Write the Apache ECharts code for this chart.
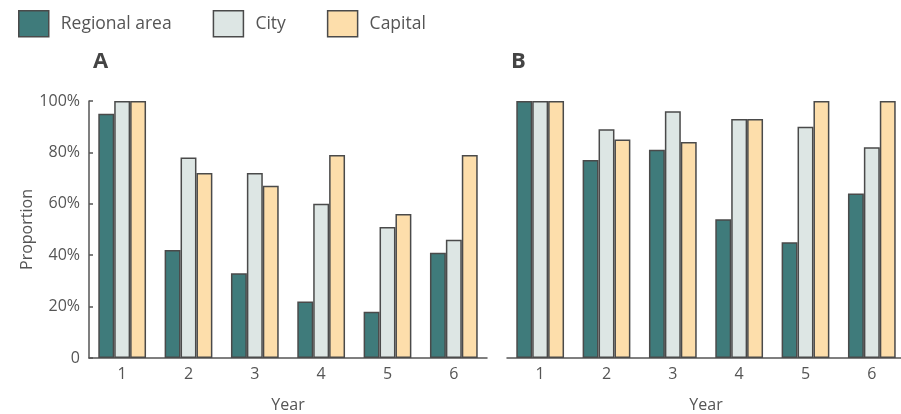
<!DOCTYPE html>
<html>
<head>
<meta charset="utf-8">
<script src="https://cdn.jsdelivr.net/npm/echarts@6/dist/echarts.min.js"></script>
<style>
  html, body { margin: 0; padding: 0; background: #fff; }
  #chart { width: 901px; height: 414px; }
</style>
</head>
<body>
<div id="chart"></div>
<script>
// Years shown on both panels
const years = ['1', '2', '3', '4', '5', '6'];
const seriesNames = ['Regional area', 'City', 'Capital'];

// Panel A proportions (%)
const regionalA = [95, 42, 33, 22, 18, 41];
const cityA = [100, 78, 72, 60, 51, 46];
const capitalA = [100, 72, 67, 79, 56, 79];

// Panel B proportions (%)
const regionalB = [100, 77, 81, 54, 45, 64];
const cityB = [100, 89, 96, 93, 90, 82];
const capitalB = [100, 85, 84, 93, 100, 100];

const colors = ['#3f7b7b', '#dde6e4', '#fddeab'];
const edge = '#4a4a4a';
const textColor = '#555';
const font = 'Open Sans';

function xAxisFor(gridIndex) {
  return {
    type: 'category', gridIndex, data: years,
    name: 'Year', nameLocation: 'middle', nameGap: 39,
    nameTextStyle: { color: textColor, fontSize: 16, fontFamily: font },
    axisLine: { lineStyle: { color: '#555', width: 1.5 } },
    axisTick: { inside: true, length: 5, lineStyle: { color: '#555', width: 1.5 } },
    axisLabel: { color: textColor, fontSize: 16, fontFamily: font, margin: 8 }
  };
}

function yAxisFor(gridIndex, visible) {
  return {
    type: 'value', gridIndex, min: 0, max: 100, interval: 20,
    name: visible ? 'Proportion' : '', nameLocation: 'middle', nameGap: 50,
    nameTextStyle: { color: textColor, fontSize: 16, fontFamily: font },
    splitLine: { show: false },
    axisLine: { show: visible, lineStyle: { color: '#555', width: 1.5 } },
    axisTick: { show: visible, inside: true, length: 4, lineStyle: { color: '#555', width: 1.5 } },
    axisLabel: {
      show: visible, color: textColor, fontSize: 16, fontFamily: font, margin: 9,
      formatter: v => (v === 0 ? '0' : v + '%')
    }
  };
}

function barSeries(name, data, idx, axisIndex) {
  return {
    type: 'bar', name, data,
    xAxisIndex: axisIndex, yAxisIndex: axisIndex,
    barGap: '0%', barCategoryGap: '28%',
    itemStyle: { color: colors[idx], borderColor: edge, borderWidth: 1.5 }
  };
}

const chart = echarts.init(document.getElementById('chart'), null, { renderer: 'canvas' });
chart.setOption({
  animation: false,
  textStyle: { fontFamily: font },
  title: [
    { text: 'A', left: 93, top: 51, padding: 0, textStyle: { fontSize: 22, fontWeight: 'bold', color: '#444', fontFamily: font } },
    { text: 'B', left: 511, top: 51, padding: 0, textStyle: { fontSize: 22, fontWeight: 'bold', color: '#444', fontFamily: font } }
  ],
  legend: {
    data: seriesNames, left: 18, top: 10, padding: 0,
    itemWidth: 30, itemHeight: 26, itemGap: 41, icon: 'rect',
    itemStyle: { borderColor: edge, borderWidth: 1.5 },
    textStyle: { color: textColor, fontSize: 17.5, fontFamily: font, padding: [0, 0, 0, 7] }
  },
  grid: [
    { left: 89, top: 101, width: 398, height: 257, containLabel: false, outerBoundsMode: 'none' },
    { left: 507, top: 101, width: 398, height: 257, containLabel: false, outerBoundsMode: 'none' }
  ],
  xAxis: [xAxisFor(0), xAxisFor(1)],
  yAxis: [yAxisFor(0, true), yAxisFor(1, false)],
  series: [
    barSeries('Regional area', regionalA, 0, 0),
    barSeries('City', cityA, 1, 0),
    barSeries('Capital', capitalA, 2, 0),
    barSeries('Regional area', regionalB, 0, 1),
    barSeries('City', cityB, 1, 1),
    barSeries('Capital', capitalB, 2, 1)
  ]
});
</script>
</body>
</html>
